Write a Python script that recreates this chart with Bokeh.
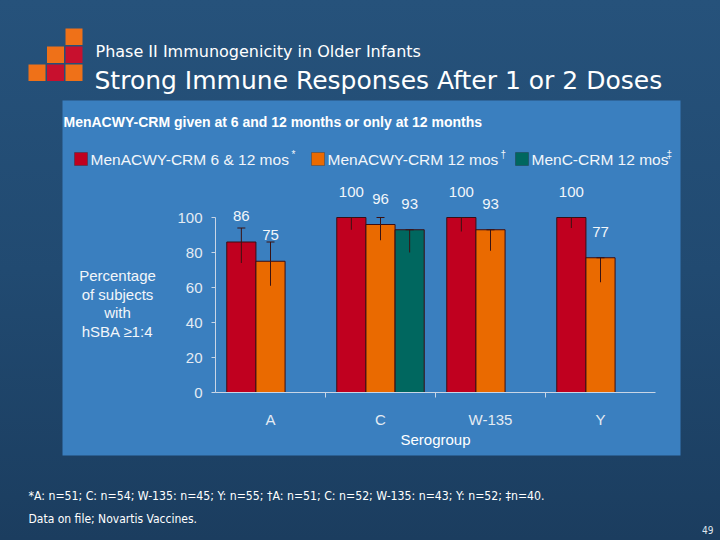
from bokeh.plotting import figure
from bokeh.models import (Range1d, LinearAxis, FixedTicker, ColumnDataSource, Whisker, Label,
                          BoxAnnotation, TeeHead, GlobalInlineStyleSheet)
from bokeh.transform import dodge
from bokeh.core.properties import value
from bokeh.embed import file_html
from bokeh.resources import INLINE

# ---------------- data ----------------
serogroups = ["A", "C", "W-135", "Y"]
series_names = ["MenACWY-CRM 6 & 12 mos", "MenACWY-CRM 12 mos", "MenC-CRM 12 mos"]
series_marks = ["*", "\u2020", "\u2021"]

crm_6_12 = [86, 100, 100, 100]
crm_6_12_lower = [74, 93, 92, 94]
crm_6_12_upper = [94, 100, 100, 100]

crm_12 = [75, 96, 93, 77]
crm_12_lower = [61, 87, 81, 63]
crm_12_upper = [86, 100, 93, 77]

menc_groups = ["C"]
menc_12 = [93]
menc_12_lower = [80]
menc_12_upper = [93]

y_ticks = [0, 20, 40, 60, 80, 100]

title_small = "Phase II Immunogenicity in Older Infants"
title_big = "Strong Immune Responses After 1 or 2 Doses"
subtitle = "MenACWY-CRM given at 6 and 12 months or only at 12 months"
y_label_lines = ["Percentage", "of subjects", "with", "hSBA \u22651:4"]
x_label = "Serogroup"
footnote_1 = "*A: n=51; C: n=54; W-135: n=45; Y: n=55; \u2020A: n=51; C: n=52; W-135: n=43; Y: n=52; \u2021n=40."
footnote_2 = "Data on file; Novartis Vaccines."
page_number = "49"

# ---------------- style ----------------
RED = "#c0001f"
ORANGE = "#ea6a00"
TEAL = "#00675f"
PANEL = "#3a7fbf"
AXIS = "#c9d6e6"
TXT = "#f2f6fa"
EDGE = "#3a0d14"
ERR = "#3a1212"
ARIAL = "Liberation Sans"
VERD = "DejaVu Sans"
COND = "DejaVu Sans Condensed"

WIDTH, HEIGHT = 720, 540
# chart placement on the page (pixels): category band 0 starts at X0, value 0 at Y0
X0, BAND = 215, 110
Y0, PX_PER_PCT = 392, 1.75
BAR_W = 0.265

n_groups = len(serogroups)
centers = [i + 0.5 for i in range(n_groups)]

p = figure(x_range=Range1d(-X0 / BAND, (WIDTH - X0) / BAND),
           y_range=Range1d((Y0 - HEIGHT) / PX_PER_PCT, Y0 / PX_PER_PCT),
           width=WIDTH, height=HEIGHT, min_border=0,
           output_backend="svg", toolbar_location=None,
           x_axis_location=None, y_axis_location=None)
p.border_fill_alpha = 0
p.background_fill_alpha = 0
p.outline_line_color = None
p.grid.visible = False

# page-pixel ranges for the slide decorations
p.extra_x_ranges = {"px": Range1d(0, WIDTH)}
p.extra_y_ranges = {"py": Range1d(HEIGHT, 0)}

p.stylesheets = [GlobalInlineStyleSheet(
    css="html{background:linear-gradient(to bottom,#26527b 0%,#214a71 50%,#1b3d5f 100%);}"
        "body{background:transparent;}")]

def box(l, t, r, b, color, level="image", line=None):
    p.add_layout(BoxAnnotation(left=l, right=r, top=t, bottom=b, x_range_name="px", y_range_name="py",
                               fill_color=color, fill_alpha=1, line_color=line, line_width=1, level=level))

def label(x, y, text, size, font=ARIAL, color=TXT, align="left", baseline="middle", style="normal"):
    p.add_layout(Label(x=x, y=y, text=text, x_range_name="px", y_range_name="py",
                       text_font=font, text_font_size=size, text_color=color,
                       text_align=align, text_baseline=baseline, text_font_style=style))

# panel
box(62, 100, 680, 455, PANEL)

# logo
LOGO_O = "#ef7118"
LOGO_R = "#c8102e"
cols = [(28, 45), (46.5, 63.5), (65, 82)]
rows = [(28, 44.5), (46, 62.5), (64, 80.5)]
for (ci, ri, c) in [(2, 0, LOGO_O), (1, 1, LOGO_O), (2, 1, LOGO_R), (0, 2, LOGO_O), (1, 2, LOGO_R), (2, 2, LOGO_O)]:
    box(cols[ci][0], rows[ri][0], cols[ci][1], rows[ri][1], c)

# titles
label(95, 51, title_small, "16px", font=VERD, color="#ffffff", baseline="alphabetic")
label(94, 80, title_big, "25px", font=VERD, color="#ffffff", baseline="alphabetic")
label(63, 121, subtitle, "14px", color="#ffffff", style="bold")

# legend
leg_x = [74, 311, 515]
leg_colors = [RED, ORANGE, TEAL]
leg_text_w = [200, 172, 134]
for x0, c, name, mark, tw in zip(leg_x, leg_colors, series_names, series_marks, leg_text_w):
    box(x0, 152, x0 + 13, 165, c, level="underlay", line="#222222")
    label(x0 + 16, 159, name, "15.5px")
    label(x0 + 16 + tw + 1, 154, mark, "10px")

# y axis label
for i, line in enumerate(y_label_lines):
    label(117, 275 + i * 18.7, line, "15px", align="center")

# footnotes
label(28, 495, footnote_1, "12.2px", font=COND, color="#ffffff")
label(28, 518, footnote_2, "12px", font=COND, color="#ffffff")
label(713, 529, page_number, "10px", font=COND, color="#dfe6ee", align="right")

# ---------------- bars ----------------
def src_for(groups, vals, lo, hi):
    return ColumnDataSource(dict(g=groups, xc=[centers[serogroups.index(g)] for g in groups],
                                 v=vals, lo=lo, hi=hi, t=[str(v) for v in vals]))

s1 = src_for(serogroups, crm_6_12, crm_6_12_lower, crm_6_12_upper)
s2 = src_for(serogroups, crm_12, crm_12_lower, crm_12_upper)
s3 = src_for(menc_groups, menc_12, menc_12_lower, menc_12_upper)

for src, off, col in [(s1, -BAR_W, RED), (s2, 0.0, ORANGE), (s3, BAR_W, TEAL)]:
    p.vbar(x=dodge("xc", off), top="v", width=BAR_W, bottom=0, source=src,
           fill_color=col, line_color=EDGE, line_width=1)
    p.add_layout(Whisker(source=src, base=dodge("xc", off), lower="lo", upper="hi",
                         line_color=ERR, line_width=1, level="overlay",
                         upper_head=TeeHead(size=8, line_color=ERR, line_width=1), lower_head=None))
    p.text(x=dodge("xc", off), y="v", text="t", source=src, y_offset=-26,
           text_align="center", text_baseline="middle", text_font=value(ARIAL), text_font_size="15px",
           text_color=TXT)

# ---------------- axes ----------------
yax = LinearAxis(ticker=FixedTicker(ticks=y_ticks), bounds=(0, 100), fixed_location=0)
yax.axis_line_color = AXIS
yax.major_tick_line_color = AXIS
yax.major_tick_in = 0
yax.major_tick_out = 4
yax.minor_tick_line_color = None
yax.major_label_text_font = ARIAL
yax.major_label_text_font_size = "15px"
yax.major_label_text_color = "#e4ebf3"
yax.major_label_standoff = 9
p.add_layout(yax, "left")

xax = LinearAxis(ticker=FixedTicker(ticks=centers, minor_ticks=list(range(1, n_groups))),
                 bounds=(0, n_groups), fixed_location=0)
xax.major_label_overrides = {c: g for c, g in zip(centers, serogroups)}
xax.axis_line_color = AXIS
xax.major_tick_line_color = None
xax.major_tick_in = 0
xax.major_tick_out = 0
xax.minor_tick_line_color = AXIS
xax.minor_tick_in = 0
xax.minor_tick_out = 5
xax.major_label_text_font = ARIAL
xax.major_label_text_font_size = "15px"
xax.major_label_text_color = "#e4ebf3"
xax.major_label_standoff = 13
xax.axis_label = x_label
xax.axis_label_text_font = ARIAL
xax.axis_label_text_font_size = "15px"
xax.axis_label_text_font_style = "normal"
xax.axis_label_text_color = "#ffffff"
xax.axis_label_standoff = 0
p.add_layout(xax, "below")

open("out.html", "w").write(file_html(p, INLINE))
